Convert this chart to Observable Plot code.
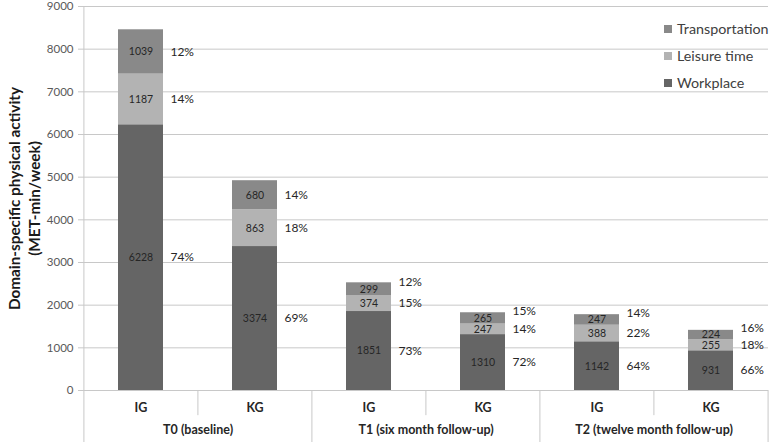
<!DOCTYPE html>
<html>
<head>
<meta charset="utf-8">
<script src="https://cdn.jsdelivr.net/npm/d3@7"></script>
<script src="https://cdn.jsdelivr.net/npm/@observablehq/plot@0.6"></script>
<style>
  body { margin: 0; background: #fff; }
  #wrap { position: relative; width: 778px; height: 442px; font-family: Lato, "Open Sans", sans-serif; }
  #legend { position: absolute; left: 664px; top: 15px; font-size: 14.3px; color: #404040; }
  #legend div { height: 27px; line-height: 18px; display: flex; align-items: center; }
  #legend span.sw { display: inline-block; width: 8px; height: 8px; margin-right: 5px; }
</style>
</head>
<body>
<div id="wrap"><div id="legend"></div></div>
<script>
// ---- data ----
const times = ["T0 (baseline)", "T1 (six month follow-up)", "T2 (twelve month follow-up)"];
const groups = ["IG", "KG"];
const series = ["Workplace", "Leisure time", "Transportation"];
const colors = ["#656565", "#b3b3b3", "#898989"];
const workplace = [6228, 3374, 1851, 1310, 1142, 931];
const leisure = [1187, 863, 374, 247, 388, 255];
const transport = [1039, 680, 299, 265, 247, 224];
const pctWork = [74, 69, 73, 72, 64, 66];
const pctLeisure = [14, 18, 15, 14, 22, 18];
const pctTransport = [12, 14, 12, 15, 14, 16];
const yTicks = [0, 1000, 2000, 3000, 4000, 5000, 6000, 7000, 8000, 9000];

// ---- build table ----
const keys = times.flatMap(t => groups.map(g => t + "|" + g));
const vals = [workplace, leisure, transport];
const pcts = [pctWork, pctLeisure, pctTransport];
const rows = [];
keys.forEach((k, i) => series.forEach((s, j) => rows.push({key: k, series: s, value: vals[j][i], pct: pcts[j][i]})));

const W = 778, H = 442, ML = 83, MR = 10, MT = 6, MB = 52;
const pI = 0.607, pO = pI / 2;
const step = (W - ML - MR) / (keys.length - pI + 2 * pO);
const bw = step * (1 - pI);
const font = "Lato, 'Open Sans', sans-serif";

const stackOpts = {x: "key", y: "value", z: "series", order: series};
// small top segments get their percentage nudged upward (as in the original labels)
const isSmallTop = d => d.series === "Transportation" && d.value < 400;
const pctOpts = {...stackOpts, fill: "#262626", fontSize: 12, textAnchor: "start", dx: bw / 2 + 7};

const chart = Plot.plot({
  width: W, height: H,
  marginLeft: ML, marginRight: MR, marginTop: MT, marginBottom: MB,
  style: {fontFamily: font, background: "#fff", overflow: "visible"},
  x: {type: "band", domain: keys, paddingInner: pI, paddingOuter: pO, label: null},
  y: {domain: [0, 9000], label: null},
  color: {domain: series, range: colors},
  marks: [
    Plot.gridY(yTicks, {stroke: "#c8c8c8", strokeOpacity: 1}),
    Plot.axisY(yTicks, {tickSize: 5, tickPadding: 5, stroke: "#c8c8c8", fill: "#595959", fontSize: 11.5, label: null, tickFormat: d => String(d)}),
    Plot.barY(rows, Plot.stackY({...stackOpts, fill: "series"})),
    Plot.text(rows, Plot.stackY({...stackOpts, text: d => String(d.value), fill: "#262626", fontSize: 10.5})),
    Plot.text(rows, Plot.stackY({...pctOpts, text: d => isSmallTop(d) ? null : d.pct + "%"})),
    Plot.text(rows, Plot.stackY({...pctOpts, text: d => isSmallTop(d) ? d.pct + "%" : null, dy: -7})),
    // category separators
    Plot.ruleX(keys.filter(k => k.endsWith("|KG")), {x: d => d, dx: -step / 2, y1: 0, y2: -590, stroke: "#c8c8c8"}),
    Plot.ruleX(keys.filter(k => k.endsWith("|IG")).slice(1), {x: d => d, dx: -step / 2, y1: 0, y2: -1230, stroke: "#c8c8c8"}),
    Plot.ruleX([keys[0]], {x: d => d, dx: -step / 2, y1: 9000, y2: -1230, stroke: "#c8c8c8"}),
    Plot.ruleX([keys[keys.length - 1]], {x: d => d, dx: step / 2, y1: 0, y2: -1230, stroke: "#c8c8c8"}),
    Plot.axisX({tickSize: 0, tickPadding: 13, tickFormat: d => d.split("|")[1], fontSize: 12.5, fontWeight: "bold", fill: "#262626", label: null}),
    Plot.text(times, {x: t => t + "|IG", dx: step / 2, frameAnchor: "bottom", dy: 43, text: d => d, fontSize: 12.5, fontWeight: "bold", fill: "#262626"}),
    Plot.text(["Domain-specific physical activity\n(MET-min/week)"], {frameAnchor: "left", textAnchor: "middle", dx: -60, rotate: -90, text: d => d, fontSize: 15.3, fontWeight: "bold", fill: "#1a1a1a", lineHeight: 1.3})
  ]
});

const wrap = document.getElementById("wrap");
wrap.insertBefore(chart, wrap.firstChild);

const legend = document.getElementById("legend");
[2, 1, 0].forEach(j => {
  const row = document.createElement("div");
  row.innerHTML = `<span class="sw" style="background:${colors[j]}"></span>${series[j]}`;
  legend.appendChild(row);
});
</script>
</body>
</html>
